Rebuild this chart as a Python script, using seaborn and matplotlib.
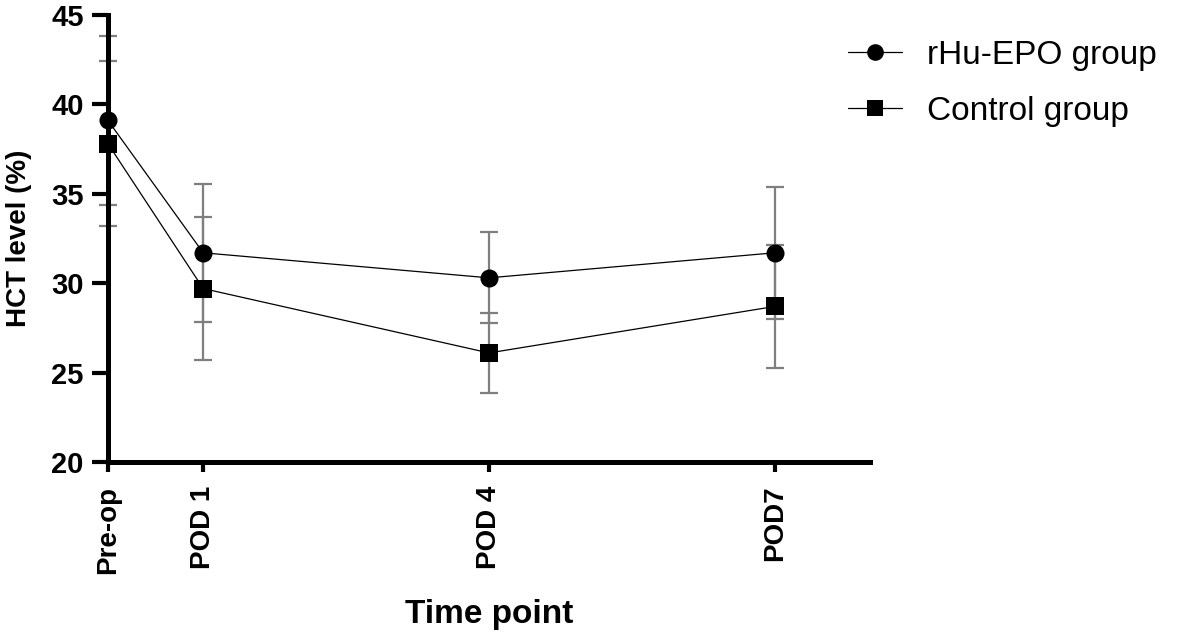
import numpy as np
import pandas as pd
import seaborn as sns
import matplotlib
matplotlib.use("Agg")
import matplotlib.pyplot as plt

# time points (days after surgery) and labels
days = [0, 1, 4, 7]
tick_labels = ["Pre-op", "POD 1", "POD 4", "POD7"]
groups = ["rHu-EPO group", "Control group"]

# mean and SD
epo_mean = [39.1, 31.7, 30.3, 31.7]
epo_sd = [4.7, 3.85, 2.55, 3.7]
ctrl_mean = [37.8, 29.7, 26.1, 28.7]
ctrl_sd = [4.6, 4.0, 2.25, 3.45]

df = pd.DataFrame({
    "day": days * 2,
    "hct": epo_mean + ctrl_mean,
    "sd": epo_sd + ctrl_sd,
    "group": [groups[0]] * 4 + [groups[1]] * 4,
})

sns.set_style("ticks")
plt.rcParams["font.family"] = ["Liberation Sans", "DejaVu Sans"]
for k in ["text.color", "axes.labelcolor", "xtick.color", "ytick.color", "axes.edgecolor"]:
    plt.rcParams[k] = "black"

fig = plt.figure(figsize=(11.81, 6.37), dpi=100)
ax = fig.add_axes([0.0914, 0.2747, 0.6453, 0.7018])

# error bars first, so the markers sit on top
for g in groups:
    sub = df[df["group"] == g]
    ax.errorbar(sub["day"], sub["hct"], yerr=sub["sd"], fmt="none",
                ecolor="#7f7f7f", elinewidth=1.6, capsize=6.5, capthick=1.6,
                zorder=2, clip_on=False)

sns.lineplot(data=df, x="day", y="hct", style="group", hue="group",
             palette=["black", "black"], markers={groups[0]: "o", groups[1]: "s"},
             dashes=False, markersize=13, linewidth=0.9, markeredgewidth=0,
             ax=ax, zorder=3, clip_on=False)

ax.set_xlim(0, 8)
ax.set_ylim(20, 45)
ax.set_yticks([20, 25, 30, 35, 40, 45])
ax.set_xticks(days)
ax.set_xticklabels(tick_labels, rotation=90, fontweight="bold", fontsize=20)
for lab in ax.get_yticklabels():
    lab.set_fontweight("bold")
    lab.set_fontsize(21)

sns.despine(ax=ax)
for s in ["left", "bottom"]:
    ax.spines[s].set_linewidth(3.6)
    ax.spines[s].set_color("black")
ax.tick_params(axis="y", length=11.5, width=3, pad=6)
ax.tick_params(axis="x", length=7, width=3, pad=10)

ax.set_xlabel("Time point", fontsize=24, fontweight="bold", labelpad=18)
ax.set_ylabel("HCT level (%)", fontsize=20, fontweight="bold", labelpad=14)

leg = ax.legend(loc="upper left", bbox_to_anchor=(0.693, 0.985),
                bbox_transform=fig.transFigure, frameon=False, fontsize=24,
                handlelength=1.6, handletextpad=0.75, labelspacing=0.75)
for h in leg.legend_handles:
    h.set_markersize(12)

fig.savefig("out.png", dpi=100)
